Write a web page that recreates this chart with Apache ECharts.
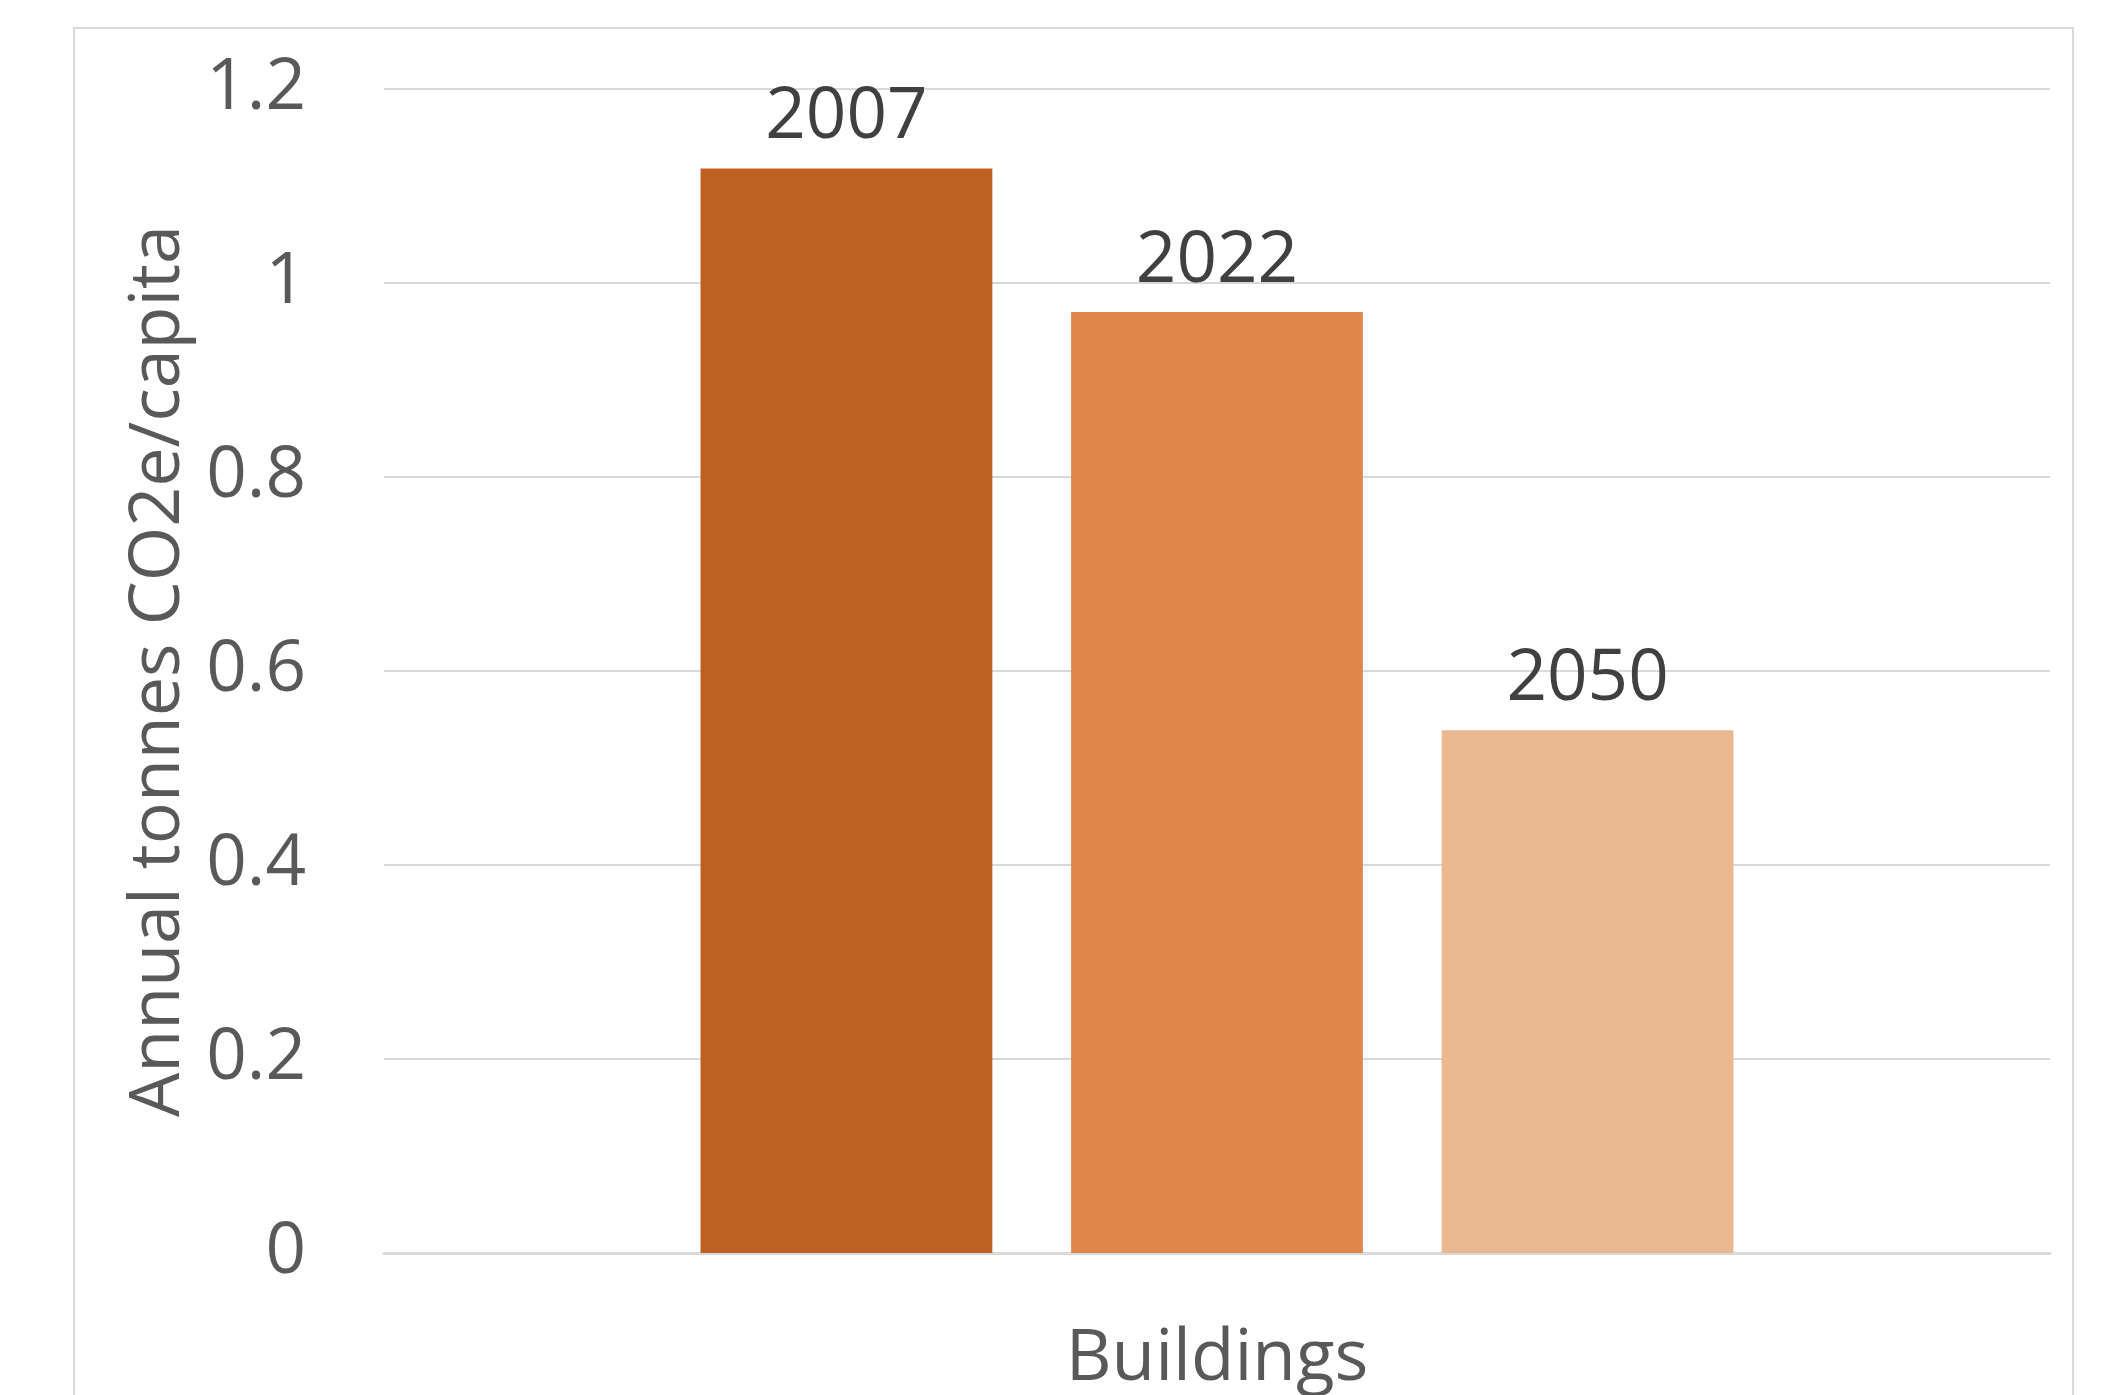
<!DOCTYPE html>
<html>
<head>
<meta charset="utf-8">
<script src="https://cdn.jsdelivr.net/npm/echarts@6/dist/echarts.min.js"></script>
<style>
html,body{margin:0;padding:0;background:#fff;}
#chart{width:2113px;height:1395px;}
</style>
</head>
<body>
<div id="chart"></div>
<script>
const categories = ["Buildings"];
const seriesNames = ["2007", "2022", "2050"];
const values2007 = [1.118];
const values2022 = [0.970];
const values2050 = [0.539];
const seriesValues = [values2007, values2022, values2050];
const barColors = ["#BD6023", "#E0874B", "#EAB890"];
const yAxisName = "Annual tonnes CO2e/capita";

const FONT = "'Open Sans', 'Noto Sans', sans-serif";
const chart = echarts.init(document.getElementById('chart'));

const series = seriesNames.map((name, i) => ({
  name: name,
  type: 'bar',
  data: seriesValues[i],
  barGap: '27%',
  barCategoryGap: '38%',
  itemStyle: { color: barColors[i] },
  label: {
    show: true,
    position: 'top',
    distance: 15,
    formatter: '{a}',
    color: '#404040',
    fontFamily: FONT,
    fontSize: 71
  }
}));

chart.setOption({
  animation: false,
  backgroundColor: '#ffffff',
  graphic: [{
    type: 'rect',
    shape: { x: 74, y: 28, width: 1999, height: 1400 },
    style: { fill: 'none', stroke: '#d9d9d9', lineWidth: 2 },
    silent: true,
    z: -10
  }],
  grid: { left: 384, right: 63, top: 89, bottom: 138, containLabel: false },
  xAxis: {
    type: 'category',
    data: categories,
    axisLine: { show: true, lineStyle: { color: '#d9d9d9', width: 3 } },
    axisTick: { show: false },
    axisLabel: { color: '#595959', fontFamily: FONT, fontSize: 71, margin: 71 }
  },
  yAxis: {
    type: 'value',
    min: 0,
    max: 1.2,
    interval: 0.2,
    name: yAxisName,
    nameLocation: 'middle',
    nameGap: 190,
    nameTextStyle: { color: '#595959', fontFamily: FONT, fontSize: 70 },
    axisLine: { show: false },
    axisTick: { show: false },
    splitLine: { lineStyle: { color: '#d9d9d9', width: 2 } },
    axisLabel: {
      color: '#595959', fontFamily: FONT, fontSize: 71, margin: 78,
      formatter: v => String(Math.round(v * 10) / 10)
    }
  },
  series: series
});
</script>
</body>
</html>
